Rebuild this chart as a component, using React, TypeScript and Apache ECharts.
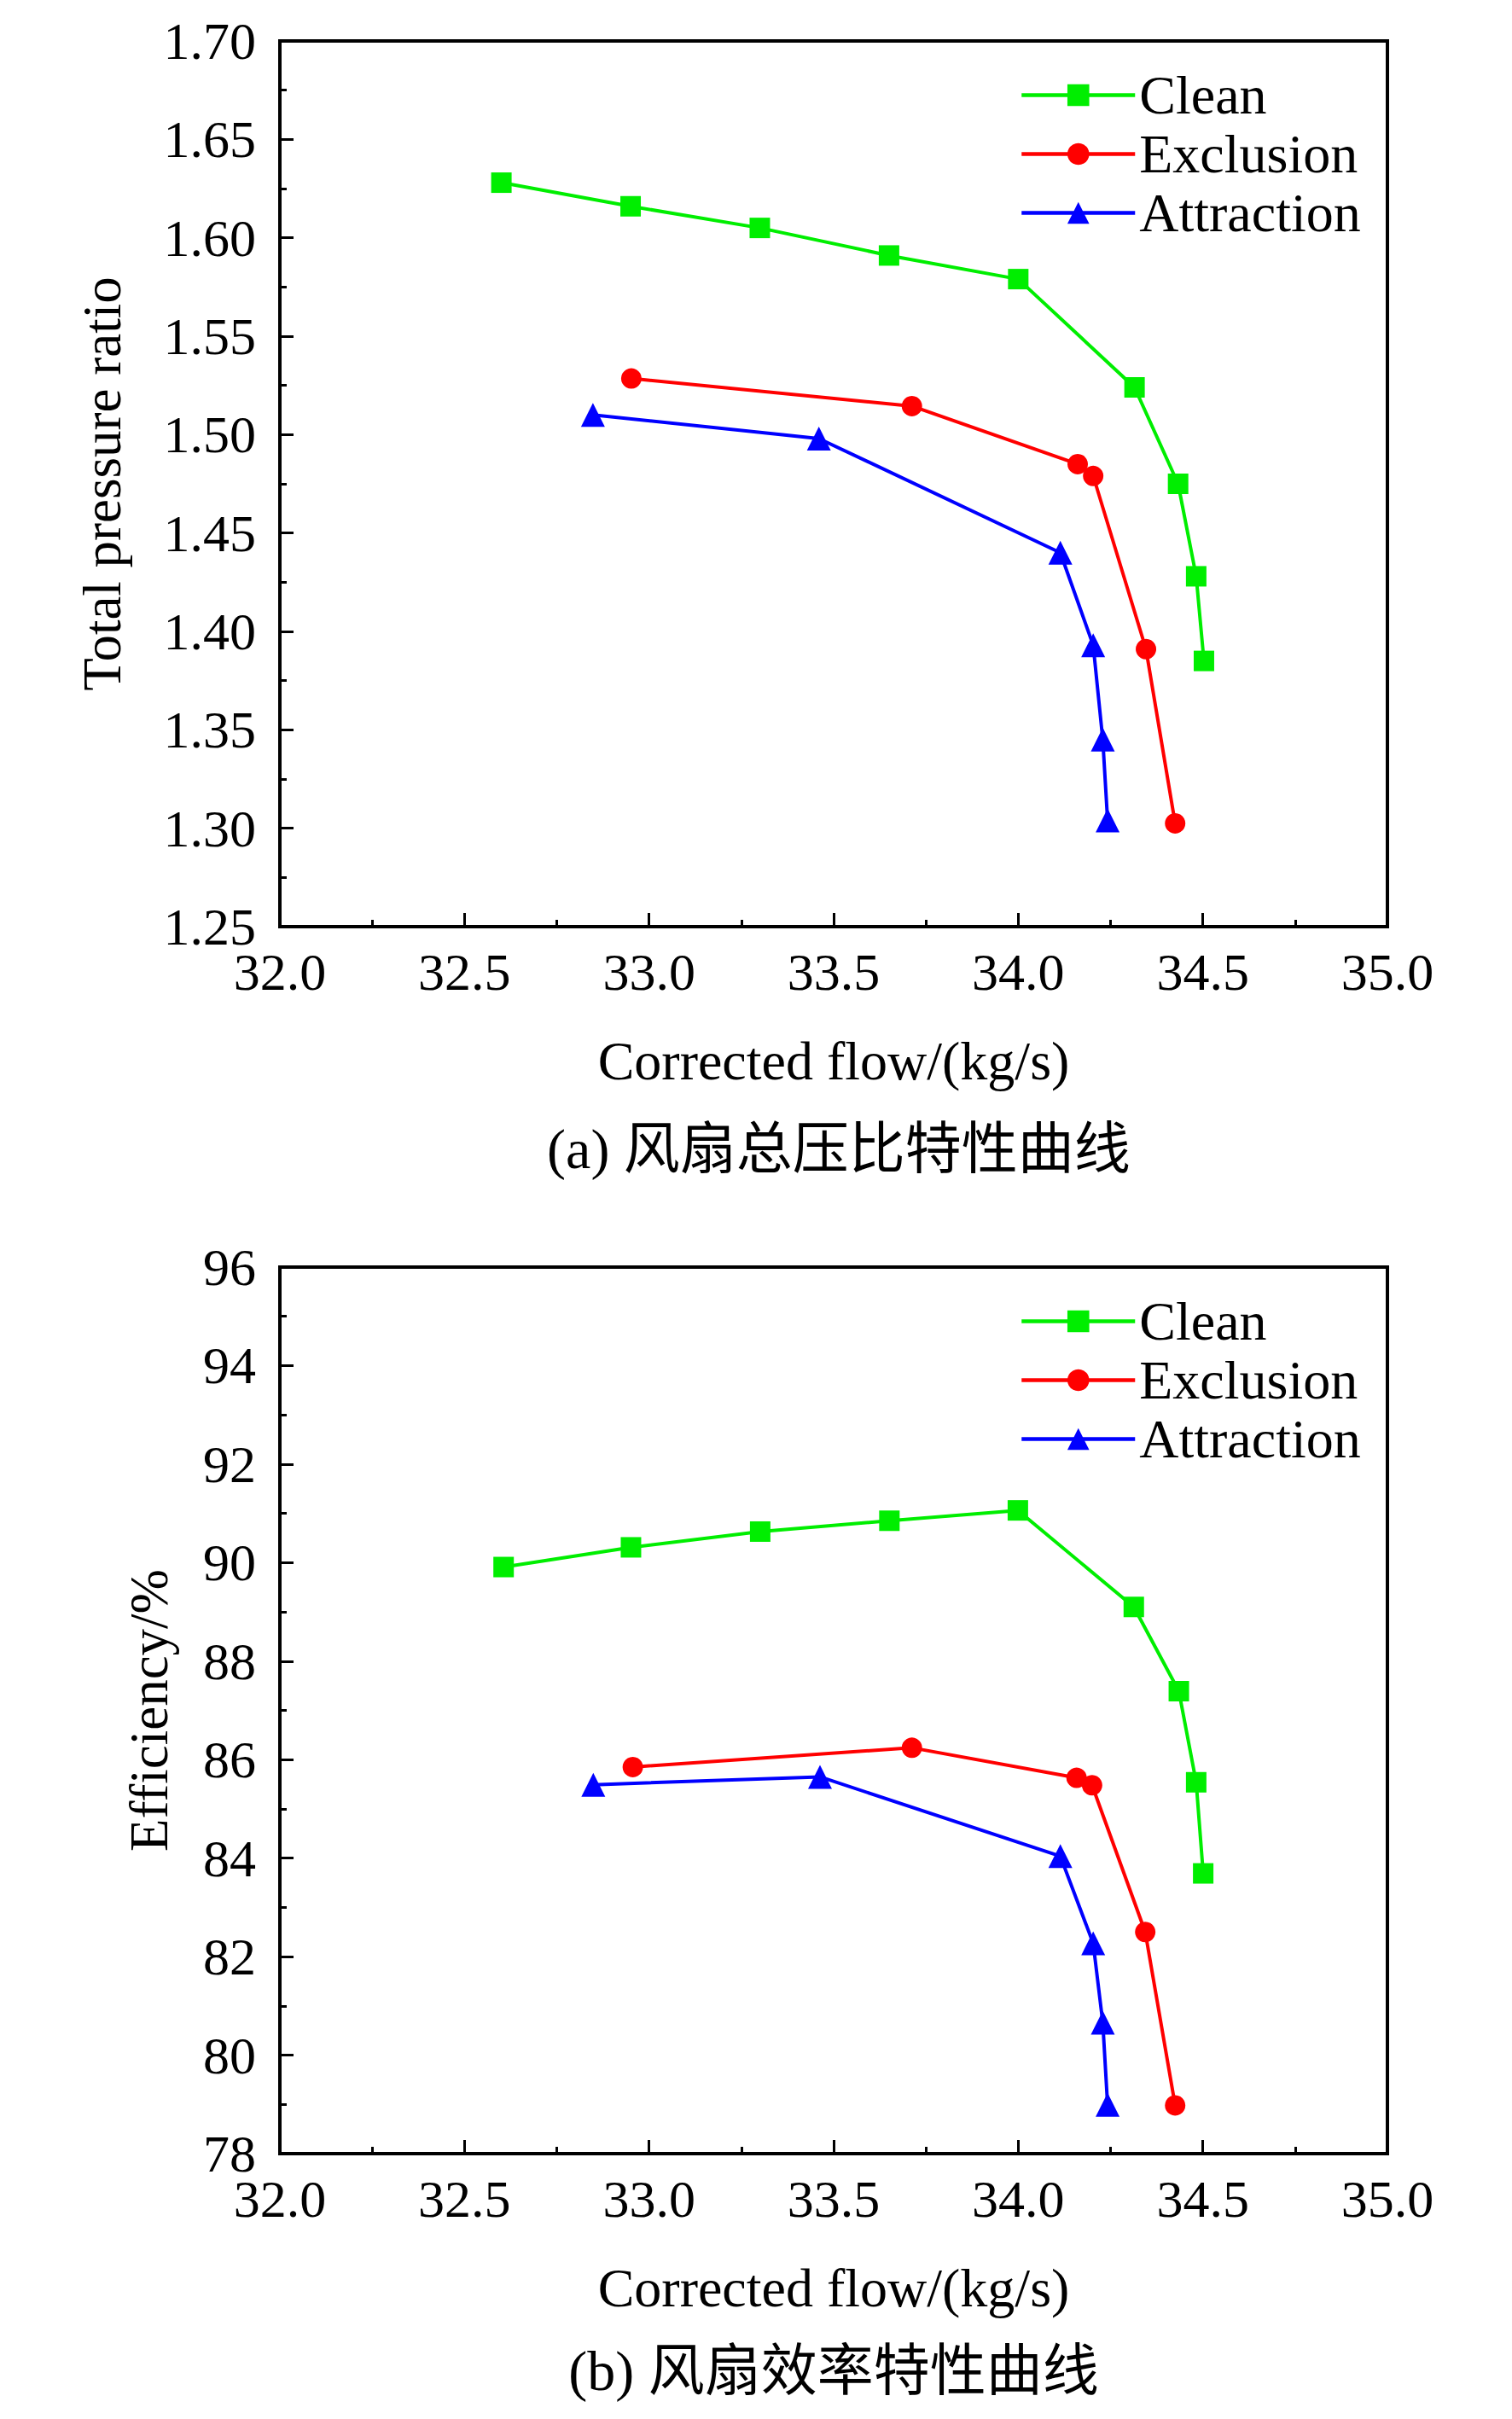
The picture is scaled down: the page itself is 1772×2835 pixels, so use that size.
import React, { useEffect, useRef } from "react";
import * as echarts from "echarts";

const seriesNames = ["Clean", "Exclusion", "Attraction"];
const seriesColors = ["#00ee00", "#ff0000", "#0000ff"];
const seriesSymbols = ["rect", "circle", "triangle"];
const seriesSymbolSizes = [24, 24, 28];

// (a) total pressure ratio
const cleanFlowA = [32.6, 32.95, 33.3, 33.65, 34.0, 34.315, 34.433, 34.482, 34.503];
const cleanPrA = [1.628, 1.616, 1.605, 1.591, 1.579, 1.524, 1.475, 1.428, 1.385];
const exclFlowA = [32.952, 33.712, 34.161, 34.203, 34.346, 34.425];
const exclPrA = [1.5285, 1.5145, 1.485, 1.479, 1.391, 1.3025];
const attrFlowA = [32.848, 33.46, 34.114, 34.203, 34.229, 34.242];
const attrPrA = [1.510, 1.498, 1.440, 1.393, 1.345, 1.304];

// (b) efficiency
const cleanFlowB = [32.606, 32.951, 33.301, 33.651, 33.999, 34.313, 34.435, 34.482, 34.501];
const cleanEffB = [89.91, 90.31, 90.63, 90.85, 91.06, 89.1, 87.39, 85.54, 83.69];
const exclFlowB = [32.956, 33.712, 34.158, 34.2, 34.344, 34.425];
const exclEffB = [85.85, 86.24, 85.63, 85.48, 82.5, 78.98];
const attrFlowB = [32.849, 33.463, 34.114, 34.203, 34.229, 34.242];
const attrEffB = [85.49, 85.65, 84.04, 82.27, 80.66, 78.99];

const xTitle = "Corrected flow/(kg/s)";
const yTitleA = "Total pressure ratio";
const yTitleB = "Efficiency/%";
const captionA = "(a) 风扇总压比特性曲线";
const captionB = "(b) 风扇效率特性曲线";

const FONT = "'Liberation Serif', 'Times New Roman', 'Noto Sans CJK SC', serif";

const zip = (xs: number[], ys: number[]) => xs.map((x, i) => [x, ys[i]]);

export default function App() {
  const ref = useRef<HTMLDivElement>(null);
  useEffect(() => {
    if (!ref.current) return;
    const chart = echarts.init(ref.current, undefined, { renderer: "svg" });

    const gridBase = {
      left: 328,
      width: 1298,
      show: true,
      borderColor: "#000",
      borderWidth: 4,
      backgroundColor: "transparent",
    };

    const xAxisBase = (gridIndex: number) => ({
      type: "value",
      gridIndex,
      min: 32,
      max: 35,
      interval: 0.5,
      name: xTitle,
      nameLocation: "middle",
      nameGap: 125,
      nameTextStyle: { fontFamily: FONT, fontSize: 64, color: "#000", lineHeight: 64 },
      axisLine: { show: true, lineStyle: { color: "#000", width: 4 } },
      axisTick: { show: true, inside: true, length: 16, lineStyle: { color: "#000", width: 3 } },
      minorTick: { show: true, splitNumber: 2, length: 8, lineStyle: { color: "#000", width: 3 } },
      splitLine: { show: false },
      minorSplitLine: { show: false },
      axisLabel: {
        fontFamily: FONT,
        fontSize: 62,
        lineHeight: 46,
        color: "#000",
        margin: 30,
        formatter: (v: number) => v.toFixed(1),
      },
    });

    const yAxisBase = (gridIndex: number) => ({
      type: "value",
      gridIndex,
      nameLocation: "middle",
      nameTextStyle: { fontFamily: FONT, fontSize: 63, color: "#000", lineHeight: 63 },
      axisLine: { show: true, lineStyle: { color: "#000", width: 4 } },
      axisTick: { show: true, inside: true, length: 16, lineStyle: { color: "#000", width: 3 } },
      minorTick: { show: true, splitNumber: 2, length: 8, lineStyle: { color: "#000", width: 3 } },
      splitLine: { show: false },
      minorSplitLine: { show: false },
      axisLabel: { fontFamily: FONT, fontSize: 62, lineHeight: 46, color: "#000", margin: 28 },
    });

    const mkSeries = (idx: number, data: number[][], axisIndex: number) => ({
      type: "line",
      name: seriesNames[idx],
      xAxisIndex: axisIndex,
      yAxisIndex: axisIndex,
      data,
      symbol: seriesSymbols[idx],
      symbolSize: seriesSymbolSizes[idx],
      showAllSymbol: true,
      lineStyle: { color: seriesColors[idx], width: 4 },
      itemStyle: { color: seriesColors[idx] },
      z: 5 - idx,
    });

    const legendBase = (top: number) => ({
      orient: "vertical",
      left: 1190,
      top,
      itemWidth: 133,
      itemHeight: 32,
      itemGap: 0,
      data: seriesNames,
      lineStyle: { width: 4.5 },
      textStyle: { fontFamily: FONT, fontSize: 64, color: "#000", lineHeight: 69 },
    });

    chart.setOption({
      animation: false,
      backgroundColor: "#fff",
      grid: [
        { ...gridBase, top: 48, height: 1038 },
        { ...gridBase, top: 1485, height: 1039 },
      ],
      xAxis: [xAxisBase(0), xAxisBase(1)],
      yAxis: [
        {
          ...yAxisBase(0),
          min: 1.25,
          max: 1.7,
          interval: 0.05,
          name: yTitleA,
          nameGap: 177,
          axisLabel: {
            ...yAxisBase(0).axisLabel,
            formatter: (v: number) => v.toFixed(2),
          },
        },
        {
          ...yAxisBase(1),
          min: 78,
          max: 96,
          interval: 2,
          name: yTitleB,
          nameGap: 122,
          axisLabel: {
            ...yAxisBase(1).axisLabel,
            formatter: (v: number) => String(Math.round(v)),
          },
        },
      ],
      legend: [legendBase(72), legendBase(1509)],
      series: [
        mkSeries(0, zip(cleanFlowA, cleanPrA), 0),
        mkSeries(1, zip(exclFlowA, exclPrA), 0),
        mkSeries(2, zip(attrFlowA, attrPrA), 0),
        mkSeries(0, zip(cleanFlowB, cleanEffB), 1),
        mkSeries(1, zip(exclFlowB, exclEffB), 1),
        mkSeries(2, zip(attrFlowB, attrEffB), 1),
      ],
      graphic: [
        {
          type: "text",
          style: {
            text: captionA,
            x: 983,
            y: 1346,
            align: "center",
            verticalAlign: "middle",
            font: `66px ${FONT}`,
            fill: "#000",
          },
        },
        {
          type: "text",
          style: {
            text: captionB,
            x: 977,
            y: 2778,
            align: "center",
            verticalAlign: "middle",
            font: `66px ${FONT}`,
            fill: "#000",
          },
        },
      ],
    });
    return () => chart.dispose();
  }, []);

  return (
    <div
      ref={ref}
      style={{ position: "absolute", left: 0, top: 0, width: 1772, height: 2835, background: "#fff" }}
    />
  );
}
